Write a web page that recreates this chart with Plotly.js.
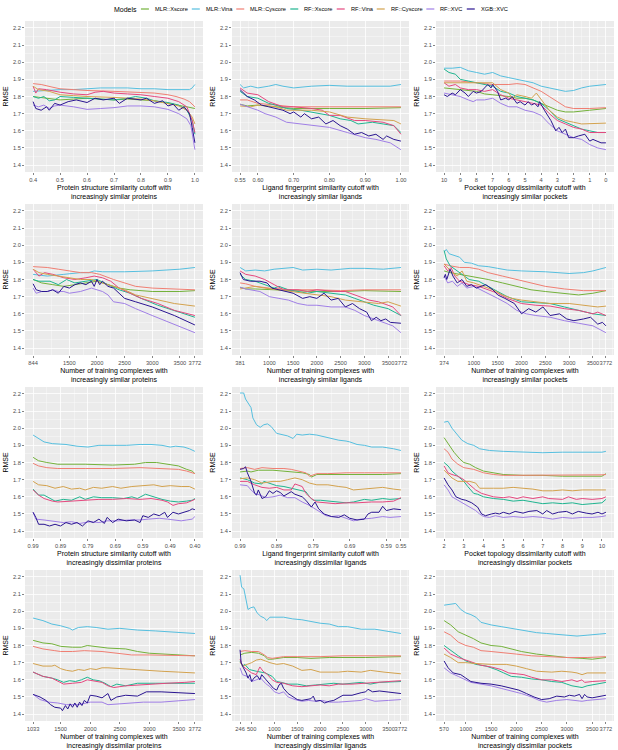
<!DOCTYPE html>
<html><head><meta charset="utf-8">
<script src="https://cdn.plot.ly/plotly-3.0.1.min.js"></script>
<style>html,body{margin:0;padding:0;background:#fff}#chart{width:618px;height:750px}</style>
</head><body><div id="chart"></div>
<script>
const SERIES = ['MLR::Xscore','MLR::Vina','MLR::Cyscore','RF::Xscore','RF::Vina','RF::Cyscore','RF::XVC','XGB::XVC'];
const COLORS = ['#74B23B','#56BFDF','#F07F73','#1FB590','#E5487F','#D3A24E','#A07FE6','#2A1591'];
const Y_TICKS = [1.4,1.5,1.6,1.7,1.8,1.9,2.0,2.1,2.2];
const Y_TICKTEXT = ['1.4','1.5','1.6','1.7','1.8','1.9','2.0','2.1','2.2'];
const Y_LIMITS = [1.4,2.2];

// ---------- Panel 1: protein similarity cutoff, increasingly similar ----------
const p1_ticks = [0.4,0.5,0.6,0.7,0.8,0.9,1.0];
const p1_ticktext = ['0.4','0.5','0.6','0.7','0.8','0.9','1.0'];
const p1_MLR_Xscore = [[0.4,1.80],[0.45,1.79],[0.5,1.78],[0.55,1.785],[0.6,1.79],[0.65,1.785],[0.7,1.78],[0.75,1.785],[0.8,1.78],[0.85,1.775],[0.9,1.76],[0.94,1.75],[0.97,1.74],[1.0,1.73]];
const p1_MLR_Vina = [[0.4,1.83],[0.45,1.835],[0.5,1.84],[0.55,1.84],[0.6,1.845],[0.65,1.85],[0.7,1.85],[0.75,1.85],[0.8,1.845],[0.85,1.845],[0.9,1.84],[0.95,1.84],[0.98,1.84],[0.99,1.85],[1.0,1.87]];
const p1_MLR_Cyscore = [[0.4,1.875],[0.43,1.87],[0.47,1.855],[0.5,1.845],[0.55,1.84],[0.6,1.835],[0.7,1.83],[0.8,1.825],[0.85,1.82],[0.9,1.81],[0.93,1.80],[0.96,1.785],[0.98,1.77],[1.0,1.74]];
const p1_RF_Xscore = [[0.4,1.80],[0.42,1.79],[0.44,1.80],[0.46,1.775],[0.48,1.78],[0.5,1.80],[0.55,1.795],[0.6,1.79],[0.65,1.785],[0.7,1.78],[0.75,1.79],[0.78,1.80],[0.82,1.79],[0.85,1.775],[0.9,1.765],[0.94,1.75],[0.97,1.72],[0.99,1.66],[1.0,1.58]];
const p1_RF_Vina = [[0.4,1.86],[0.41,1.82],[0.42,1.845],[0.45,1.84],[0.5,1.825],[0.55,1.815],[0.6,1.81],[0.63,1.825],[0.66,1.83],[0.7,1.82],[0.75,1.815],[0.8,1.81],[0.85,1.80],[0.9,1.79],[0.94,1.77],[0.97,1.74],[0.99,1.66],[1.0,1.59]];
const p1_RF_Cyscore = [[0.4,1.86],[0.42,1.84],[0.46,1.83],[0.5,1.81],[0.55,1.805],[0.6,1.80],[0.7,1.795],[0.8,1.785],[0.85,1.775],[0.9,1.76],[0.94,1.745],[0.97,1.72],[0.99,1.68],[1.0,1.64]];
const p1_RF_XVC = [[0.4,1.75],[0.42,1.74],[0.44,1.75],[0.46,1.73],[0.48,1.745],[0.5,1.75],[0.55,1.74],[0.6,1.725],[0.65,1.73],[0.7,1.735],[0.75,1.745],[0.8,1.745],[0.85,1.74],[0.9,1.725],[0.94,1.70],[0.97,1.67],[0.985,1.63],[0.995,1.55],[1.0,1.49]];
const p1_XGB_XVC = [[0.4,1.77],[0.41,1.73],[0.43,1.72],[0.45,1.74],[0.46,1.72],[0.48,1.76],[0.5,1.75],[0.53,1.77],[0.56,1.78],[0.6,1.765],[0.63,1.79],[0.66,1.78],[0.7,1.79],[0.72,1.76],[0.75,1.79],[0.8,1.78],[0.82,1.79],[0.85,1.76],[0.88,1.775],[0.9,1.745],[0.92,1.755],[0.94,1.72],[0.96,1.74],[0.98,1.70],[0.99,1.62],[1.0,1.53]];

// ---------- Panel 2: ligand similarity cutoff, increasingly similar ----------
const p2_ticks = [0.55,0.60,0.70,0.80,0.90,1.00];
const p2_ticktext = ['0.55','0.60','0.70','0.80','0.90','1.00'];
const p2_MLR_Xscore = [[0.55,1.755],[0.57,1.745],[0.6,1.75],[0.65,1.74],[0.7,1.73],[0.8,1.73],[0.9,1.73],[1.0,1.735]];
const p2_MLR_Vina = [[0.55,1.87],[0.56,1.85],[0.58,1.86],[0.6,1.85],[0.63,1.86],[0.65,1.87],[0.67,1.86],[0.7,1.85],[0.75,1.86],[0.8,1.865],[0.85,1.86],[0.9,1.86],[0.97,1.86],[1.0,1.87]];
const p2_MLR_Cyscore = [[0.55,1.78],[0.57,1.78],[0.6,1.76],[0.65,1.75],[0.7,1.74],[0.8,1.74],[0.9,1.74],[1.0,1.74]];
const p2_RF_Xscore = [[0.55,1.83],[0.57,1.80],[0.6,1.79],[0.63,1.76],[0.65,1.75],[0.68,1.73],[0.72,1.72],[0.78,1.70],[0.8,1.69],[0.83,1.67],[0.86,1.66],[0.88,1.64],[0.92,1.65],[0.95,1.64],[0.98,1.63],[1.0,1.59]];
const p2_RF_Vina = [[0.55,1.85],[0.57,1.82],[0.6,1.81],[0.63,1.77],[0.67,1.74],[0.7,1.74],[0.75,1.73],[0.78,1.72],[0.8,1.69],[0.83,1.69],[0.87,1.66],[0.9,1.66],[0.95,1.65],[0.98,1.63],[1.0,1.58]];
const p2_RF_Cyscore = [[0.55,1.745],[0.58,1.74],[0.6,1.75],[0.65,1.74],[0.68,1.72],[0.75,1.72],[0.8,1.71],[0.85,1.68],[0.9,1.67],[0.95,1.665],[0.98,1.66],[1.0,1.64]];
const p2_RF_XVC = [[0.55,1.755],[0.57,1.74],[0.6,1.72],[0.62,1.70],[0.65,1.68],[0.68,1.65],[0.7,1.645],[0.75,1.63],[0.8,1.62],[0.85,1.59],[0.9,1.56],[0.93,1.55],[0.97,1.53],[1.0,1.49]];
const p2_XGB_XVC = [[0.55,1.84],[0.57,1.80],[0.59,1.78],[0.61,1.75],[0.63,1.74],[0.65,1.73],[0.67,1.72],[0.69,1.70],[0.7,1.71],[0.72,1.68],[0.73,1.70],[0.75,1.67],[0.77,1.68],[0.79,1.64],[0.81,1.66],[0.83,1.63],[0.85,1.61],[0.87,1.58],[0.89,1.59],[0.91,1.57],[0.93,1.58],[0.95,1.55],[0.96,1.57],[0.98,1.55],[1.0,1.54]];

// ---------- Panel 3: pocket dissimilarity cutoff, increasingly similar ----------
const p3_ticks = [10,9,8,7,6,5,4,3,2,1,0];
const p3_ticktext = ['10','9','8','7','6','5','4','3','2','1','0'];
const p3_MLR_Xscore = [[10,1.85],[9,1.84],[8,1.83],[7.5,1.815],[7,1.81],[6,1.80],[5.5,1.79],[5,1.79],[4.5,1.78],[4,1.76],[3.5,1.74],[3,1.72],[2.5,1.71],[2,1.71],[1,1.72],[0,1.73]];
const p3_MLR_Vina = [[10,1.965],[9.5,1.965],[9,1.97],[8.5,1.95],[8,1.94],[7.5,1.93],[7,1.94],[6.5,1.92],[6,1.91],[5.5,1.90],[5,1.89],[4.5,1.88],[4,1.86],[3.5,1.85],[3,1.84],[2.5,1.83],[2,1.835],[1.5,1.85],[1,1.86],[0,1.87]];
const p3_MLR_Cyscore = [[10,1.89],[9,1.89],[8,1.88],[7,1.87],[6,1.87],[5.5,1.875],[5,1.87],[4.5,1.85],[4,1.83],[3.5,1.80],[3,1.77],[2.5,1.74],[2,1.73],[1,1.73],[0,1.735]];
const p3_RF_Xscore = [[10,1.96],[9.7,1.94],[9.3,1.93],[9,1.90],[8.5,1.89],[8,1.88],[7.5,1.87],[7,1.86],[6.5,1.83],[6,1.82],[5.5,1.80],[5,1.79],[4.5,1.78],[4,1.76],[3.5,1.72],[3,1.67],[2.5,1.65],[2,1.63],[1.5,1.61],[1,1.60],[0.5,1.59],[0,1.59]];
const p3_RF_Vina = [[10,1.88],[9.7,1.86],[9.3,1.87],[9,1.85],[8.5,1.84],[8,1.84],[7.5,1.83],[7,1.84],[6.5,1.81],[6,1.79],[5.5,1.78],[5,1.77],[4.5,1.76],[4,1.75],[3.5,1.70],[3,1.66],[2.5,1.64],[2,1.62],[1.5,1.61],[1,1.59],[0.5,1.59],[0,1.59]];
const p3_RF_Cyscore = [[10,1.88],[9,1.88],[8,1.88],[7,1.88],[6.5,1.84],[6,1.82],[5.8,1.79],[5.5,1.81],[5,1.80],[4.6,1.79],[4.3,1.82],[4,1.78],[3.5,1.72],[3,1.68],[2.5,1.66],[2,1.65],[1.5,1.64],[0,1.645]];
const p3_RF_XVC = [[10,1.82],[9.5,1.81],[9,1.80],[8.5,1.78],[8.2,1.77],[8,1.78],[7.5,1.78],[7,1.79],[6.5,1.76],[6,1.74],[5.5,1.74],[5,1.72],[4.5,1.71],[4,1.69],[3.5,1.64],[3,1.60],[2.5,1.58],[2,1.56],[1.5,1.55],[1,1.52],[0.5,1.50],[0,1.49]];
const p3_XGB_XVC = [[10,1.81],[9.8,1.80],[9.5,1.82],[9.3,1.81],[9,1.84],[8.7,1.82],[8.5,1.80],[8.2,1.83],[8,1.82],[7.7,1.83],[7.3,1.87],[7.1,1.85],[7,1.87],[6.7,1.83],[6.5,1.78],[6.2,1.79],[6,1.78],[5.8,1.80],[5.5,1.76],[5.3,1.77],[5,1.75],[4.8,1.77],[4.6,1.75],[4.4,1.76],[4.2,1.74],[4.1,1.77],[3.8,1.72],[3.6,1.69],[3.4,1.66],[3.1,1.60],[2.9,1.62],[2.7,1.59],[2.5,1.61],[2.3,1.56],[2,1.56],[1.7,1.57],[1.3,1.58],[1,1.54],[0.8,1.55],[0.3,1.53],[0,1.53]];

// ---------- Panel 4: training complexes, increasingly similar proteins ----------
const p4_ticks = [844,1500,2000,2500,3000,3500,3772];
const p4_ticktext = ['844','1500','2000','2500','3000','3500','3772'];
const p4_MLR_Xscore = [[844,1.80],[1000,1.78],[1200,1.77],[1400,1.76],[1600,1.77],[1800,1.78],[2000,1.79],[2200,1.77],[2400,1.75],[2600,1.74],[3000,1.73],[3500,1.73],[3772,1.735]];
const p4_MLR_Vina = [[844,1.83],[1100,1.82],[1400,1.83],[1700,1.84],[1850,1.84],[1950,1.85],[2100,1.845],[2500,1.845],[3000,1.85],[3500,1.86],[3772,1.87]];
const p4_MLR_Cyscore = [[844,1.875],[1100,1.87],[1300,1.86],[1500,1.85],[1700,1.84],[1900,1.84],[2050,1.83],[2300,1.80],[2500,1.78],[2700,1.76],[3000,1.75],[3500,1.745],[3772,1.74]];
const p4_RF_Xscore = [[844,1.80],[950,1.79],[1150,1.79],[1300,1.77],[1450,1.80],[1600,1.78],[1800,1.79],[2000,1.80],[2200,1.77],[2400,1.74],[2600,1.72],[2800,1.69],[3100,1.65],[3500,1.61],[3772,1.58]];
const p4_RF_Vina = [[844,1.86],[950,1.82],[1050,1.84],[1200,1.83],[1400,1.81],[1600,1.80],[1800,1.81],[1950,1.82],[2100,1.81],[2250,1.79],[2400,1.75],[2600,1.72],[2800,1.69],[3100,1.66],[3400,1.62],[3772,1.59]];
const p4_RF_Cyscore = [[844,1.86],[950,1.84],[1100,1.83],[1300,1.82],[1500,1.81],[1700,1.80],[1900,1.80],[2100,1.78],[2300,1.76],[2500,1.74],[2700,1.71],[3000,1.69],[3400,1.66],[3772,1.645]];
const p4_RF_XVC = [[844,1.75],[900,1.72],[1000,1.73],[1100,1.73],[1200,1.74],[1300,1.73],[1400,1.73],[1500,1.72],[1700,1.73],[1800,1.74],[1900,1.75],[2000,1.74],[2100,1.73],[2200,1.71],[2300,1.67],[2500,1.66],[2700,1.63],[3000,1.59],[3400,1.54],[3772,1.49]];
const p4_XGB_XVC = [[844,1.775],[900,1.74],[1000,1.73],[1100,1.73],[1200,1.74],[1300,1.72],[1400,1.76],[1500,1.75],[1600,1.77],[1700,1.78],[1800,1.77],[1900,1.79],[1950,1.76],[2000,1.80],[2050,1.77],[2100,1.79],[2200,1.76],[2300,1.75],[2400,1.72],[2500,1.69],[2700,1.67],[3000,1.64],[3400,1.59],[3772,1.535]];

// ---------- Panel 5: training complexes, increasingly similar ligands ----------
const p5_ticks = [381,1000,1500,2000,2500,3000,3500,3772];
const p5_ticktext = ['381','1000','1500','2000','2500','3000','3500','3772'];
const p5_MLR_Xscore = [[381,1.755],[500,1.745],[700,1.745],[1000,1.74],[1500,1.735],[2000,1.73],[2500,1.73],[3000,1.735],[3772,1.73]];
const p5_MLR_Vina = [[381,1.87],[500,1.85],[700,1.855],[900,1.85],[1100,1.86],[1300,1.865],[1500,1.87],[1700,1.855],[2000,1.86],[2300,1.855],[2700,1.865],[3000,1.865],[3400,1.86],[3772,1.87]];
const p5_MLR_Cyscore = [[381,1.78],[500,1.775],[700,1.76],[1000,1.75],[1500,1.74],[2000,1.74],[2500,1.735],[3000,1.74],[3772,1.74]];
const p5_RF_Xscore = [[381,1.83],[500,1.80],[700,1.79],[900,1.77],[1100,1.75],[1200,1.76],[1400,1.74],[1600,1.73],[1800,1.72],[2000,1.73],[2300,1.72],[2600,1.71],[2800,1.69],[3000,1.67],[3200,1.65],[3500,1.63],[3772,1.59]];
const p5_RF_Vina = [[381,1.85],[500,1.83],[700,1.82],[900,1.80],[1100,1.77],[1300,1.74],[1600,1.74],[1800,1.73],[2000,1.74],[2400,1.73],[2600,1.73],[2900,1.70],[3100,1.68],[3300,1.67],[3600,1.64],[3772,1.59]];
const p5_RF_Cyscore = [[381,1.745],[500,1.75],[700,1.76],[900,1.75],[1200,1.74],[1500,1.73],[1700,1.72],[2000,1.71],[2300,1.70],[2600,1.68],[3000,1.67],[3300,1.66],[3500,1.67],[3772,1.645]];
const p5_RF_XVC = [[381,1.755],[500,1.745],[800,1.73],[1000,1.70],[1200,1.69],[1400,1.68],[1600,1.66],[1800,1.65],[2000,1.65],[2300,1.64],[2600,1.64],[2800,1.62],[3000,1.59],[3300,1.56],[3600,1.53],[3772,1.49]];
const p5_XGB_XVC = [[381,1.84],[450,1.80],[600,1.79],[800,1.79],[950,1.78],[1050,1.75],[1200,1.74],[1350,1.73],[1500,1.72],[1700,1.69],[1850,1.70],[2000,1.69],[2150,1.72],[2300,1.68],[2450,1.69],[2600,1.64],[2750,1.66],[2900,1.63],[3050,1.61],[3150,1.56],[3250,1.58],[3350,1.56],[3450,1.57],[3550,1.55],[3772,1.545]];

// ---------- Panel 6: training complexes, increasingly similar pockets ----------
const p6_ticks = [374,1000,1500,2000,2500,3000,3500,3772];
const p6_ticktext = ['374','1000','1500','2000','2500','3000','3500','3772'];
const p6_MLR_Xscore = [[374,1.85],[500,1.84],[700,1.83],[900,1.82],[1100,1.81],[1300,1.80],[1600,1.78],[1900,1.76],[2200,1.74],[2500,1.73],[2900,1.72],[3200,1.71],[3500,1.72],[3772,1.735]];
const p6_MLR_Vina = [[374,1.96],[420,1.975],[480,1.95],[600,1.94],[700,1.93],[800,1.90],[950,1.895],[1100,1.88],[1300,1.875],[1500,1.865],[1700,1.855],[2000,1.85],[2500,1.845],[3000,1.835],[3300,1.84],[3500,1.85],[3772,1.87]];
const p6_MLR_Cyscore = [[374,1.89],[500,1.88],[700,1.87],[900,1.87],[1100,1.86],[1300,1.84],[1600,1.82],[1900,1.80],[2200,1.78],[2500,1.76],[2900,1.745],[3300,1.735],[3772,1.735]];
const p6_RF_Xscore = [[374,1.97],[420,1.92],[500,1.88],[600,1.86],[750,1.83],[900,1.80],[1100,1.79],[1300,1.76],[1500,1.73],[1700,1.70],[2000,1.67],[2300,1.665],[2600,1.66],[2900,1.64],[3200,1.62],[3500,1.60],[3772,1.59]];
const p6_RF_Vina = [[374,1.88],[450,1.85],[520,1.87],[600,1.82],[700,1.79],[900,1.77],[1100,1.76],[1300,1.74],[1500,1.72],[1700,1.69],[2000,1.66],[2300,1.65],[2600,1.645],[2900,1.63],[3200,1.62],[3500,1.60],[3600,1.61],[3772,1.59]];
const p6_RF_Cyscore = [[374,1.89],[450,1.87],[550,1.84],[650,1.82],[750,1.85],[850,1.79],[1000,1.78],[1200,1.76],[1400,1.74],[1600,1.71],[1800,1.69],[2000,1.68],[2300,1.67],[2600,1.66],[3000,1.66],[3300,1.65],[3600,1.64],[3772,1.645]];
const p6_RF_XVC = [[374,1.82],[450,1.78],[550,1.79],[650,1.76],[750,1.78],[850,1.75],[1000,1.76],[1150,1.74],[1300,1.72],[1500,1.69],[1700,1.66],[1900,1.62],[2100,1.60],[2300,1.59],[2600,1.58],[2900,1.56],[3200,1.545],[3500,1.53],[3772,1.49]];
const p6_XGB_XVC = [[374,1.81],[400,1.83],[430,1.80],[500,1.86],[560,1.82],[650,1.78],[750,1.80],[850,1.76],[950,1.77],[1050,1.75],[1150,1.76],[1250,1.77],[1400,1.74],[1500,1.71],[1650,1.69],[1850,1.66],[2000,1.60],[2150,1.63],[2300,1.61],[2450,1.64],[2600,1.59],[2800,1.60],[2950,1.57],[3100,1.56],[3300,1.57],[3450,1.58],[3600,1.54],[3700,1.55],[3772,1.53]];

// ---------- Panel 7: protein similarity cutoff, increasingly dissimilar ----------
const p7_ticks = [0.99,0.89,0.79,0.69,0.59,0.49,0.40];
const p7_ticktext = ['0.99','0.89','0.79','0.69','0.59','0.49','0.40'];
const p7_MLR_Xscore = [[0.99,1.83],[0.97,1.81],[0.94,1.80],[0.9,1.79],[0.8,1.79],[0.7,1.785],[0.62,1.79],[0.58,1.80],[0.54,1.80],[0.5,1.79],[0.46,1.78],[0.43,1.76],[0.41,1.75],[0.4,1.735]];
const p7_MLR_Vina = [[0.99,1.96],[0.97,1.94],[0.95,1.92],[0.92,1.91],[0.87,1.905],[0.83,1.895],[0.79,1.89],[0.75,1.90],[0.7,1.90],[0.65,1.90],[0.6,1.905],[0.56,1.905],[0.52,1.90],[0.49,1.89],[0.47,1.895],[0.44,1.89],[0.42,1.88],[0.4,1.865]];
const p7_MLR_Cyscore = [[0.99,1.795],[0.97,1.78],[0.94,1.77],[0.9,1.765],[0.8,1.765],[0.7,1.765],[0.6,1.77],[0.5,1.765],[0.46,1.76],[0.43,1.75],[0.41,1.74],[0.4,1.735]];
const p7_RF_Xscore = [[0.99,1.645],[0.97,1.61],[0.95,1.61],[0.93,1.59],[0.91,1.575],[0.88,1.585],[0.85,1.58],[0.82,1.60],[0.8,1.585],[0.77,1.60],[0.74,1.595],[0.7,1.595],[0.66,1.59],[0.63,1.60],[0.61,1.59],[0.58,1.615],[0.55,1.60],[0.52,1.585],[0.49,1.575],[0.46,1.57],[0.43,1.575],[0.41,1.58],[0.4,1.59]];
const p7_RF_Vina = [[0.99,1.64],[0.97,1.61],[0.95,1.59],[0.92,1.575],[0.9,1.57],[0.85,1.575],[0.8,1.58],[0.75,1.585],[0.7,1.585],[0.65,1.59],[0.6,1.585],[0.56,1.59],[0.52,1.58],[0.5,1.57],[0.48,1.55],[0.46,1.56],[0.43,1.565],[0.41,1.58],[0.4,1.585]];
const p7_RF_Cyscore = [[0.99,1.69],[0.97,1.67],[0.94,1.665],[0.91,1.65],[0.88,1.66],[0.85,1.645],[0.82,1.65],[0.8,1.64],[0.77,1.655],[0.74,1.65],[0.7,1.66],[0.67,1.65],[0.63,1.66],[0.58,1.665],[0.55,1.67],[0.52,1.66],[0.49,1.665],[0.45,1.66],[0.42,1.66],[0.4,1.645]];
const p7_RF_XVC = [[0.99,1.51],[0.98,1.47],[0.95,1.465],[0.92,1.46],[0.88,1.45],[0.85,1.455],[0.82,1.445],[0.78,1.455],[0.75,1.45],[0.72,1.46],[0.68,1.46],[0.64,1.465],[0.6,1.465],[0.57,1.47],[0.53,1.475],[0.5,1.47],[0.47,1.465],[0.45,1.46],[0.43,1.465],[0.41,1.47],[0.4,1.485]];
const p7_XGB_XVC = [[0.99,1.51],[0.98,1.48],[0.97,1.44],[0.95,1.44],[0.93,1.43],[0.91,1.44],[0.89,1.43],[0.87,1.45],[0.85,1.44],[0.83,1.45],[0.81,1.43],[0.79,1.46],[0.77,1.45],[0.75,1.47],[0.73,1.445],[0.72,1.48],[0.7,1.45],[0.68,1.47],[0.65,1.46],[0.62,1.465],[0.6,1.45],[0.59,1.49],[0.57,1.48],[0.55,1.50],[0.53,1.49],[0.51,1.51],[0.5,1.48],[0.48,1.51],[0.46,1.50],[0.44,1.51],[0.42,1.52],[0.41,1.53],[0.4,1.525]];

// ---------- Panel 8: ligand similarity cutoff, increasingly dissimilar ----------
const p8_ticks = [0.99,0.89,0.79,0.69,0.59,0.55];
const p8_ticktext = ['0.99','0.89','0.79','0.69','0.59','0.55'];
const p8_MLR_Xscore = [[0.99,1.745],[0.97,1.75],[0.96,1.745],[0.94,1.755],[0.9,1.755],[0.87,1.75],[0.84,1.745],[0.82,1.74],[0.8,1.73],[0.795,1.715],[0.78,1.73],[0.75,1.73],[0.7,1.73],[0.65,1.73],[0.6,1.73],[0.55,1.735]];
const p8_MLR_Vina = [[0.99,2.205],[0.98,2.205],[0.975,2.17],[0.965,2.14],[0.96,2.12],[0.955,2.06],[0.945,2.02],[0.935,2.005],[0.925,2.02],[0.915,2.025],[0.905,2.01],[0.89,1.97],[0.87,1.96],[0.86,1.955],[0.845,1.94],[0.835,1.965],[0.82,1.96],[0.8,1.965],[0.78,1.96],[0.76,1.95],[0.74,1.94],[0.72,1.93],[0.7,1.925],[0.69,1.92],[0.67,1.905],[0.65,1.90],[0.63,1.89],[0.6,1.89],[0.57,1.88],[0.55,1.87]];
const p8_MLR_Cyscore = [[0.99,1.765],[0.97,1.77],[0.95,1.76],[0.93,1.77],[0.9,1.765],[0.87,1.765],[0.85,1.76],[0.83,1.75],[0.81,1.74],[0.8,1.72],[0.78,1.735],[0.75,1.735],[0.7,1.74],[0.65,1.74],[0.6,1.74],[0.55,1.74]];
const p8_RF_Xscore = [[0.99,1.71],[0.97,1.70],[0.95,1.68],[0.93,1.675],[0.925,1.69],[0.91,1.68],[0.89,1.665],[0.87,1.66],[0.85,1.65],[0.83,1.64],[0.81,1.63],[0.8,1.60],[0.79,1.58],[0.77,1.58],[0.74,1.575],[0.7,1.565],[0.68,1.57],[0.65,1.585],[0.63,1.58],[0.6,1.59],[0.58,1.585],[0.55,1.59]];
const p8_RF_Vina = [[0.99,1.69],[0.97,1.69],[0.95,1.67],[0.93,1.655],[0.91,1.65],[0.89,1.655],[0.87,1.64],[0.85,1.64],[0.84,1.675],[0.82,1.66],[0.81,1.62],[0.795,1.59],[0.78,1.57],[0.76,1.565],[0.73,1.56],[0.7,1.565],[0.67,1.565],[0.63,1.57],[0.6,1.57],[0.57,1.575],[0.55,1.595]];
const p8_RF_Cyscore = [[0.99,1.705],[0.97,1.71],[0.95,1.70],[0.93,1.68],[0.9,1.69],[0.88,1.69],[0.86,1.70],[0.84,1.71],[0.82,1.70],[0.8,1.68],[0.78,1.67],[0.75,1.67],[0.72,1.66],[0.7,1.655],[0.68,1.64],[0.65,1.645],[0.62,1.65],[0.6,1.655],[0.57,1.645],[0.55,1.64]];
const p8_RF_XVC = [[0.99,1.67],[0.97,1.665],[0.96,1.64],[0.95,1.62],[0.935,1.61],[0.92,1.595],[0.9,1.60],[0.88,1.61],[0.86,1.595],[0.84,1.595],[0.82,1.57],[0.8,1.55],[0.785,1.53],[0.77,1.51],[0.755,1.49],[0.74,1.485],[0.72,1.49],[0.7,1.475],[0.68,1.46],[0.66,1.47],[0.63,1.475],[0.6,1.485],[0.58,1.48],[0.55,1.485]];
const p8_XGB_XVC = [[0.99,1.76],[0.98,1.765],[0.975,1.775],[0.97,1.74],[0.96,1.69],[0.955,1.66],[0.95,1.62],[0.945,1.61],[0.94,1.64],[0.93,1.59],[0.92,1.60],[0.91,1.635],[0.9,1.62],[0.89,1.635],[0.88,1.625],[0.87,1.605],[0.85,1.63],[0.84,1.615],[0.82,1.60],[0.81,1.58],[0.795,1.54],[0.785,1.57],[0.775,1.53],[0.76,1.50],[0.74,1.485],[0.72,1.48],[0.705,1.495],[0.69,1.475],[0.67,1.465],[0.65,1.47],[0.64,1.50],[0.63,1.51],[0.61,1.51],[0.6,1.545],[0.59,1.52],[0.57,1.53],[0.55,1.525]];

// ---------- Panel 9: pocket dissimilarity cutoff, increasingly dissimilar ----------
const p9_ticks = [2,3,4,5,6,7,8,9,10];
const p9_ticktext = ['2','3','4','5','6','7','8','9','10'];
const p9_MLR_Xscore = [[2,1.945],[2.2,1.91],[2.5,1.86],[2.8,1.82],[3,1.80],[3.3,1.79],[3.6,1.77],[4,1.75],[4.5,1.74],[5,1.73],[6,1.725],[7,1.725],[8,1.72],[9,1.72],[10,1.72],[10.2,1.735]];
const p9_MLR_Vina = [[2,2.035],[2.2,2.04],[2.4,2.0],[2.6,1.97],[2.9,1.93],[3.2,1.91],[3.5,1.90],[3.8,1.88],[4.3,1.87],[5,1.865],[6,1.86],[7,1.857],[8,1.86],[9,1.86],[10,1.86],[10.2,1.865]];
const p9_MLR_Cyscore = [[2,1.88],[2.2,1.86],[2.4,1.82],[2.7,1.79],[3,1.77],[3.5,1.76],[4,1.74],[4.5,1.73],[5,1.725],[6,1.725],[7,1.728],[8,1.728],[9,1.727],[10,1.728],[10.2,1.73]];
const p9_RF_Xscore = [[2,1.80],[2.2,1.78],[2.4,1.75],[2.7,1.72],[3,1.69],[3.2,1.66],[3.5,1.62],[3.7,1.615],[4,1.60],[4.5,1.59],[5,1.585],[5.5,1.575],[6,1.58],[6.5,1.57],[7,1.56],[7.5,1.565],[8,1.56],[8.5,1.565],[9,1.555],[9.5,1.56],[10,1.565],[10.2,1.585]];
const p9_RF_Vina = [[2,1.78],[2.2,1.74],[2.4,1.73],[2.7,1.72],[3,1.70],[3.3,1.67],[3.6,1.64],[3.9,1.62],[4.2,1.61],[4.5,1.60],[5,1.595],[5.3,1.60],[5.7,1.59],[6,1.60],[6.5,1.59],[7,1.60],[7.3,1.59],[8,1.585],[8.3,1.60],[8.7,1.585],[9,1.59],[9.5,1.585],[10,1.59],[10.2,1.60]];
const p9_RF_Cyscore = [[2,1.755],[2.2,1.73],[2.4,1.71],[2.7,1.69],[3,1.69],[3.3,1.69],[3.6,1.68],[3.8,1.65],[4.5,1.65],[5,1.65],[5.5,1.655],[6,1.65],[6.5,1.645],[7,1.635],[7.5,1.635],[8,1.64],[8.5,1.635],[9,1.64],[9.5,1.64],[10.2,1.64]];
const p9_RF_XVC = [[2,1.67],[2.2,1.64],[2.4,1.60],[2.7,1.58],[3,1.56],[3.3,1.54],[3.6,1.52],[3.8,1.50],[4,1.485],[4.3,1.48],[4.6,1.49],[5,1.48],[5.5,1.485],[6,1.48],[6.5,1.485],[7,1.48],[7.5,1.47],[8,1.48],[8.5,1.475],[9,1.48],[9.5,1.48],[10,1.485],[10.2,1.49]];
const p9_XGB_XVC = [[2,1.71],[2.2,1.67],[2.4,1.64],[2.6,1.60],[2.9,1.585],[3.1,1.58],[3.4,1.565],[3.6,1.55],[3.7,1.54],[3.9,1.50],[4.1,1.49],[4.4,1.50],[4.6,1.505],[4.8,1.50],[5,1.51],[5.3,1.50],[5.6,1.515],[6,1.505],[6.3,1.515],[6.7,1.52],[7,1.50],[7.2,1.52],[7.5,1.50],[7.8,1.51],[8.2,1.515],[8.5,1.50],[8.8,1.515],[9.2,1.505],[9.5,1.50],[9.8,1.51],[10,1.50],[10.2,1.51]];

// ---------- Panel 10: training complexes, increasingly dissimilar proteins ----------
const p10_ticks = [1033,1500,2000,2500,3000,3500,3772];
const p10_ticktext = ['1033','1500','2000','2500','3000','3500','3772'];
const p10_MLR_Xscore = [[1033,1.83],[1200,1.815],[1350,1.81],[1500,1.795],[1700,1.79],[1850,1.79],[1950,1.80],[2100,1.795],[2300,1.785],[2600,1.78],[2800,1.765],[3000,1.755],[3500,1.745],[3772,1.74]];
const p10_MLR_Vina = [[1033,1.96],[1200,1.945],[1350,1.925],[1500,1.915],[1650,1.90],[1700,1.89],[1800,1.905],[1950,1.91],[2100,1.905],[2300,1.895],[2500,1.90],[2800,1.89],[3100,1.885],[3500,1.875],[3772,1.87]];
const p10_MLR_Cyscore = [[1033,1.795],[1200,1.78],[1400,1.77],[1500,1.765],[1700,1.765],[1900,1.77],[2200,1.765],[2500,1.755],[2700,1.745],[3000,1.745],[3500,1.74],[3772,1.74]];
const p10_RF_Xscore = [[1033,1.645],[1200,1.62],[1350,1.61],[1450,1.60],[1550,1.585],[1650,1.595],[1750,1.59],[1850,1.60],[1950,1.615],[2050,1.60],[2150,1.595],[2250,1.58],[2350,1.56],[2450,1.575],[2600,1.565],[2800,1.58],[3100,1.58],[3500,1.58],[3772,1.58]];
const p10_RF_Vina = [[1033,1.645],[1200,1.62],[1350,1.61],[1450,1.59],[1550,1.575],[1700,1.58],[1850,1.585],[1950,1.60],[2100,1.59],[2200,1.585],[2300,1.565],[2400,1.555],[2600,1.565],[2800,1.57],[3000,1.575],[3300,1.58],[3600,1.585],[3772,1.59]];
const p10_RF_Cyscore = [[1033,1.695],[1200,1.68],[1350,1.68],[1400,1.685],[1500,1.665],[1600,1.655],[1700,1.65],[1800,1.66],[1900,1.655],[2000,1.665],[2100,1.66],[2200,1.67],[2300,1.67],[2500,1.665],[2700,1.66],[2900,1.655],[3200,1.65],[3500,1.645],[3772,1.64]];
const p10_RF_XVC = [[1033,1.515],[1150,1.485],[1300,1.47],[1450,1.465],[1600,1.455],[1800,1.455],[2000,1.47],[2200,1.47],[2300,1.455],[2500,1.46],[2700,1.465],[2900,1.47],[3200,1.47],[3500,1.48],[3772,1.485]];
const p10_XGB_XVC = [[1033,1.515],[1150,1.50],[1250,1.48],[1330,1.455],[1400,1.44],[1500,1.435],[1530,1.42],[1580,1.45],[1620,1.43],[1660,1.46],[1700,1.44],[1740,1.465],[1780,1.44],[1820,1.47],[1860,1.45],[1900,1.48],[1950,1.465],[2000,1.51],[2100,1.505],[2200,1.495],[2300,1.52],[2350,1.48],[2450,1.50],[2600,1.51],[2800,1.505],[2950,1.53],[3200,1.53],[3500,1.525],[3772,1.52]];

// ---------- Panel 11: training complexes, increasingly dissimilar ligands ----------
const p11_ticks = [246,500,1000,1500,2000,2500,3000,3500,3772];
const p11_ticktext = ['246','500','1000','1500','2000','2500','3000','3500','3772'];
const p11_MLR_Xscore = [[246,1.745],[350,1.755],[500,1.76],[650,1.755],[780,1.74],[850,1.72],[950,1.72],[1200,1.73],[1500,1.73],[1800,1.725],[2200,1.73],[3000,1.73],[3772,1.735]];
const p11_MLR_Vina = [[246,2.21],[280,2.14],[330,2.13],[380,2.05],[420,2.01],[480,2.02],[550,2.025],[620,1.99],[700,1.97],[780,1.96],[830,1.945],[900,1.965],[1050,1.965],[1200,1.965],[1400,1.955],[1600,1.95],[1800,1.94],[2000,1.93],[2200,1.925],[2400,1.91],[2600,1.91],[2900,1.895],[3200,1.895],[3500,1.88],[3772,1.87]];
const p11_MLR_Cyscore = [[246,1.765],[350,1.77],[500,1.765],[650,1.765],[780,1.745],[850,1.73],[950,1.725],[1200,1.735],[1500,1.735],[2000,1.735],[2500,1.74],[3000,1.74],[3772,1.74]];
const p11_RF_Xscore = [[246,1.71],[300,1.68],[350,1.69],[450,1.66],[600,1.65],[800,1.64],[950,1.62],[1050,1.59],[1150,1.585],[1300,1.575],[1500,1.575],[1700,1.565],[1900,1.57],[2100,1.575],[2300,1.58],[2500,1.575],[2700,1.58],[2900,1.585],[3100,1.575],[3300,1.585],[3772,1.59]];
const p11_RF_Vina = [[246,1.72],[300,1.68],[400,1.66],[500,1.64],[600,1.63],[680,1.675],[750,1.65],[850,1.63],[950,1.60],[1050,1.585],[1200,1.58],[1400,1.565],[1600,1.56],[1800,1.565],[2000,1.57],[2200,1.565],[2400,1.575],[2700,1.575],[3000,1.58],[3300,1.585],[3772,1.595]];
const p11_RF_Cyscore = [[246,1.70],[320,1.68],[400,1.69],[500,1.70],[600,1.715],[700,1.72],[800,1.71],[900,1.70],[1050,1.69],[1200,1.695],[1400,1.68],[1500,1.665],[1600,1.655],[1800,1.66],[2000,1.645],[2400,1.645],[2600,1.65],[2900,1.645],[3100,1.655],[3400,1.645],[3772,1.635]];
const p11_RF_XVC = [[246,1.67],[300,1.63],[400,1.62],[500,1.59],[600,1.60],[700,1.61],[800,1.58],[900,1.56],[1000,1.53],[1100,1.52],[1200,1.53],[1300,1.50],[1450,1.485],[1600,1.475],[1750,1.48],[1900,1.475],[2050,1.48],[2200,1.47],[2400,1.47],[2700,1.475],[2900,1.48],[3000,1.49],[3200,1.475],[3500,1.48],[3772,1.485]];
const p11_XGB_XVC = [[246,1.775],[270,1.70],[320,1.67],[380,1.64],[420,1.61],[460,1.63],[500,1.59],[550,1.61],[620,1.625],[680,1.60],[720,1.63],[780,1.61],[850,1.59],[920,1.57],[980,1.55],[1050,1.54],[1100,1.57],[1150,1.58],[1200,1.55],[1300,1.52],[1400,1.50],[1500,1.485],[1600,1.48],[1700,1.485],[1800,1.49],[1850,1.505],[1900,1.475],[2000,1.48],[2100,1.465],[2200,1.475],[2300,1.48],[2500,1.51],[2700,1.51],[2900,1.525],[3000,1.53],[3050,1.545],[3150,1.53],[3300,1.535],[3500,1.53],[3772,1.52]];

// ---------- Panel 12: training complexes, increasingly dissimilar pockets ----------
const p12_ticks = [570,1000,1500,2000,2500,3000,3500,3772];
const p12_ticktext = ['570','1000','1500','2000','2500','3000','3500','3772'];
const p12_MLR_Xscore = [[570,1.945],[700,1.92],[850,1.88],[1000,1.86],[1150,1.84],[1300,1.815],[1500,1.80],[1700,1.795],[1900,1.78],[2100,1.765],[2400,1.75],[2700,1.74],[3000,1.73],[3300,1.725],[3500,1.72],[3772,1.73]];
const p12_MLR_Vina = [[570,2.035],[700,2.04],[800,2.045],[900,2.01],[1000,1.99],[1100,1.98],[1200,1.965],[1300,1.935],[1500,1.92],[1700,1.91],[1900,1.90],[2100,1.89],[2400,1.875],[2600,1.87],[2800,1.865],[3000,1.86],[3200,1.855],[3400,1.86],[3600,1.865],[3772,1.87]];
const p12_MLR_Cyscore = [[570,1.88],[700,1.86],[850,1.82],[1000,1.80],[1150,1.79],[1300,1.77],[1500,1.765],[1700,1.76],[2000,1.75],[2300,1.74],[2600,1.735],[3000,1.73],[3400,1.73],[3772,1.735]];
const p12_RF_Xscore = [[570,1.80],[700,1.77],[850,1.74],[1000,1.71],[1200,1.69],[1400,1.68],[1600,1.66],[1750,1.64],[1900,1.62],[2100,1.615],[2300,1.605],[2500,1.60],[2700,1.59],[2900,1.585],[3000,1.575],[3100,1.565],[3200,1.56],[3300,1.555],[3400,1.565],[3600,1.575],[3772,1.585]];
const p12_RF_Vina = [[570,1.785],[700,1.75],[850,1.73],[1000,1.715],[1150,1.70],[1300,1.685],[1500,1.675],[1700,1.66],[1850,1.64],[2000,1.635],[2150,1.63],[2300,1.615],[2500,1.60],[2700,1.60],[2900,1.59],[3100,1.60],[3200,1.59],[3300,1.60],[3350,1.585],[3500,1.59],[3772,1.595]];
const p12_RF_Cyscore = [[570,1.75],[700,1.73],[850,1.70],[1000,1.70],[1200,1.695],[1500,1.69],[1800,1.69],[2000,1.68],[2200,1.665],[2400,1.65],[2700,1.645],[2900,1.65],[3100,1.645],[3200,1.64],[3300,1.63],[3400,1.64],[3772,1.64]];
const p12_RF_XVC = [[570,1.67],[700,1.64],[850,1.62],[1000,1.60],[1100,1.585],[1300,1.575],[1500,1.565],[1700,1.55],[1900,1.535],[2100,1.52],[2300,1.50],[2450,1.48],[2600,1.47],[2800,1.48],[3000,1.485],[3200,1.48],[3300,1.475],[3400,1.48],[3600,1.485],[3772,1.49]];
const p12_XGB_XVC = [[570,1.71],[650,1.67],[750,1.64],[900,1.63],[1000,1.61],[1100,1.59],[1300,1.58],[1500,1.575],[1700,1.565],[1900,1.55],[2050,1.54],[2200,1.52],[2350,1.50],[2500,1.485],[2650,1.49],[2800,1.505],[2950,1.50],[3050,1.51],[3150,1.505],[3250,1.515],[3300,1.49],[3350,1.515],[3400,1.50],[3500,1.495],[3650,1.505],[3772,1.51]];

const X_TITLES = [
  'Protein structure similarity cutoff with<br>increasingly similar proteins',
  'Ligand fingerprint similarity cutoff with<br>increasingly similar ligands',
  'Pocket topology dissimilarity cutoff with<br>increasingly similar pockets',
  'Number of training complexes with<br>increasingly similar proteins',
  'Number of training complexes with<br>increasingly similar ligands',
  'Number of training complexes with<br>increasingly similar pockets',
  'Protein structure similarity cutoff with<br>increasingly dissimilar proteins',
  'Ligand fingerprint similarity cutoff with<br>increasingly dissimilar ligands',
  'Pocket topology dissimilarity cutoff with<br>increasingly dissimilar pockets',
  'Number of training complexes with<br>increasingly dissimilar proteins',
  'Number of training complexes with<br>increasingly dissimilar ligands',
  'Number of training complexes with<br>increasingly dissimilar pockets'
];
const REVERSED = [false,false,true,false,false,false,true,true,false,false,false,false];

const PANELS = [
  {ticks:p1_ticks, text:p1_ticktext, series:[p1_MLR_Xscore,p1_MLR_Vina,p1_MLR_Cyscore,p1_RF_Xscore,p1_RF_Vina,p1_RF_Cyscore,p1_RF_XVC,p1_XGB_XVC]},
  {ticks:p2_ticks, text:p2_ticktext, series:[p2_MLR_Xscore,p2_MLR_Vina,p2_MLR_Cyscore,p2_RF_Xscore,p2_RF_Vina,p2_RF_Cyscore,p2_RF_XVC,p2_XGB_XVC]},
  {ticks:p3_ticks, text:p3_ticktext, series:[p3_MLR_Xscore,p3_MLR_Vina,p3_MLR_Cyscore,p3_RF_Xscore,p3_RF_Vina,p3_RF_Cyscore,p3_RF_XVC,p3_XGB_XVC]},
  {ticks:p4_ticks, text:p4_ticktext, series:[p4_MLR_Xscore,p4_MLR_Vina,p4_MLR_Cyscore,p4_RF_Xscore,p4_RF_Vina,p4_RF_Cyscore,p4_RF_XVC,p4_XGB_XVC]},
  {ticks:p5_ticks, text:p5_ticktext, series:[p5_MLR_Xscore,p5_MLR_Vina,p5_MLR_Cyscore,p5_RF_Xscore,p5_RF_Vina,p5_RF_Cyscore,p5_RF_XVC,p5_XGB_XVC]},
  {ticks:p6_ticks, text:p6_ticktext, series:[p6_MLR_Xscore,p6_MLR_Vina,p6_MLR_Cyscore,p6_RF_Xscore,p6_RF_Vina,p6_RF_Cyscore,p6_RF_XVC,p6_XGB_XVC]},
  {ticks:p7_ticks, text:p7_ticktext, series:[p7_MLR_Xscore,p7_MLR_Vina,p7_MLR_Cyscore,p7_RF_Xscore,p7_RF_Vina,p7_RF_Cyscore,p7_RF_XVC,p7_XGB_XVC]},
  {ticks:p8_ticks, text:p8_ticktext, series:[p8_MLR_Xscore,p8_MLR_Vina,p8_MLR_Cyscore,p8_RF_Xscore,p8_RF_Vina,p8_RF_Cyscore,p8_RF_XVC,p8_XGB_XVC]},
  {ticks:p9_ticks, text:p9_ticktext, series:[p9_MLR_Xscore,p9_MLR_Vina,p9_MLR_Cyscore,p9_RF_Xscore,p9_RF_Vina,p9_RF_Cyscore,p9_RF_XVC,p9_XGB_XVC]},
  {ticks:p10_ticks, text:p10_ticktext, series:[p10_MLR_Xscore,p10_MLR_Vina,p10_MLR_Cyscore,p10_RF_Xscore,p10_RF_Vina,p10_RF_Cyscore,p10_RF_XVC,p10_XGB_XVC]},
  {ticks:p11_ticks, text:p11_ticktext, series:[p11_MLR_Xscore,p11_MLR_Vina,p11_MLR_Cyscore,p11_RF_Xscore,p11_RF_Vina,p11_RF_Cyscore,p11_RF_XVC,p11_XGB_XVC]},
  {ticks:p12_ticks, text:p12_ticktext, series:[p12_MLR_Xscore,p12_MLR_Vina,p12_MLR_Cyscore,p12_RF_Xscore,p12_RF_Vina,p12_RF_Cyscore,p12_RF_XVC,p12_XGB_XVC]}
];

// ---------- layout geometry (pixels) ----------
const W = 618, H = 750;
const COL_PX = [[25,203],[232,409],[436,614]];
const ROW_PX = [[21,172],[204,355],[387,538],[570,721]];
const FONT = "'Liberation Sans', Arial, Helvetica, sans-serif";
const TICKFONT = {family: FONT, size: 5.7, color: '#4D4D4D'};
const TITLEFONT = {family: FONT, size: 7, color: '#000000'};

function expand(lo, hi) { const d = (hi - lo) * 0.05; return [lo - d, hi + d]; }
function minorBreaks(b, range) {
  const s = b.slice().sort((a, c) => a - c);
  const lo = Math.min(range[0], range[1]), hi = Math.max(range[0], range[1]);
  const ext = [s[0] - (s[1] - s[0])].concat(s, [s[s.length - 1] + (s[s.length - 1] - s[s.length - 2])]);
  const out = [];
  for (let i = 0; i < ext.length - 1; i++) { const m = (ext[i] + ext[i + 1]) / 2; if (m > lo && m < hi) out.push(m); }
  return out;
}

const traces = [];
const layout = {
  width: W, height: H,
  margin: {l: 0, r: 0, t: 0, b: 0},
  paper_bgcolor: '#FFFFFF', plot_bgcolor: '#EBEBEB',
  showlegend: false,
  font: {family: FONT},
  shapes: [], annotations: []
};

const yRange = expand(Y_LIMITS[0], Y_LIMITS[1]);
const yMinor = minorBreaks(Y_TICKS, yRange);

PANELS.forEach((p, i) => {
  const n = i + 1, r = Math.floor(i / 3), c = i % 3;
  const xs = p.series.flat().map(d => d[0]);
  let xr = expand(Math.min(...xs), Math.max(...xs));
  if (REVERSED[i]) xr = [xr[1], xr[0]];
  const xk = n === 1 ? 'xaxis' : 'xaxis' + n;
  const yk = n === 1 ? 'yaxis' : 'yaxis' + n;
  const xref = n === 1 ? 'x' : 'x' + n;
  const yref = n === 1 ? 'y' : 'y' + n;
  layout[xk] = {
    domain: [COL_PX[c][0] / W, COL_PX[c][1] / W], anchor: yref,
    range: xr, autorange: false, tickmode: 'array', tickvals: p.ticks, ticktext: p.text,
    showgrid: true, gridcolor: '#FFFFFF', gridwidth: 0.8, zeroline: false, showline: false,
    minor: {tickmode: 'array', tickvals: minorBreaks(p.ticks, xr), showgrid: true, gridcolor: '#FFFFFF', gridwidth: 0.35, ticks: ''},
    ticks: 'outside', ticklen: 2, tickwidth: 0.6, tickcolor: '#333333',
    tickfont: TICKFONT, tickangle: 0, automargin: false, fixedrange: true,
    title: {text: X_TITLES[i], font: TITLEFONT, standoff: 3}
  };
  layout[yk] = {
    domain: [1 - ROW_PX[r][1] / H, 1 - ROW_PX[r][0] / H], anchor: xref,
    range: yRange, autorange: false, tickmode: 'array', tickvals: Y_TICKS, ticktext: Y_TICKTEXT,
    showgrid: true, gridcolor: '#FFFFFF', gridwidth: 0.8, zeroline: false, showline: false,
    minor: {tickmode: 'array', tickvals: yMinor, showgrid: true, gridcolor: '#FFFFFF', gridwidth: 0.35, ticks: ''},
    ticks: 'outside', ticklen: 2, tickwidth: 0.6, tickcolor: '#333333',
    tickfont: TICKFONT, automargin: false, fixedrange: true,
    title: {text: 'RMSE', font: TITLEFONT, standoff: 3}
  };
  p.series.forEach((pts, k) => {
    traces.push({
      type: 'scatter', mode: 'lines', name: SERIES[k],
      x: pts.map(d => d[0]), y: pts.map(d => d[1]),
      xaxis: xref, yaxis: yref,
      line: {color: COLORS[k], width: 1},
      hoverinfo: 'skip', showlegend: false
    });
  });
});

// ---------- legend (drawn as text + line keys, centered on top) ----------
const ctx = document.createElement('canvas').getContext('2d');
function textW(t, size) { ctx.font = size + 'px "Liberation Sans", Arial, sans-serif'; return ctx.measureText(t).width; }
const LEG_SIZE = 5.7, LEG_TITLE_SIZE = 7, KEY_LEN = 8, KEY_GAP = 4, ITEM_GAP = 6, TITLE_GAP = 6;
const legY = 1 - 9 / H;
let total = textW('Models', LEG_TITLE_SIZE) + TITLE_GAP;
SERIES.forEach(s => { total += KEY_LEN + KEY_GAP + textW(s, LEG_SIZE) + ITEM_GAP; });
total -= ITEM_GAP;
let cx = (W - total) / 2;
layout.annotations.push({xref: 'paper', yref: 'paper', x: cx / W, y: legY, xanchor: 'left', yanchor: 'middle',
  text: 'Models', showarrow: false, font: {family: FONT, size: LEG_TITLE_SIZE, color: '#000'}});
cx += textW('Models', LEG_TITLE_SIZE) + TITLE_GAP;
SERIES.forEach((s, k) => {
  layout.shapes.push({type: 'line', xref: 'paper', yref: 'paper', x0: cx / W, x1: (cx + KEY_LEN) / W, y0: legY, y1: legY,
    line: {color: COLORS[k], width: 1.2}});
  cx += KEY_LEN + KEY_GAP;
  layout.annotations.push({xref: 'paper', yref: 'paper', x: cx / W, y: legY, xanchor: 'left', yanchor: 'middle',
    text: s, showarrow: false, font: {family: FONT, size: LEG_SIZE, color: '#000'}});
  cx += textW(s, LEG_SIZE) + ITEM_GAP;
});

Plotly.newPlot('chart', traces, layout, {staticPlot: true, displayModeBar: false});
</script>
</body></html>
